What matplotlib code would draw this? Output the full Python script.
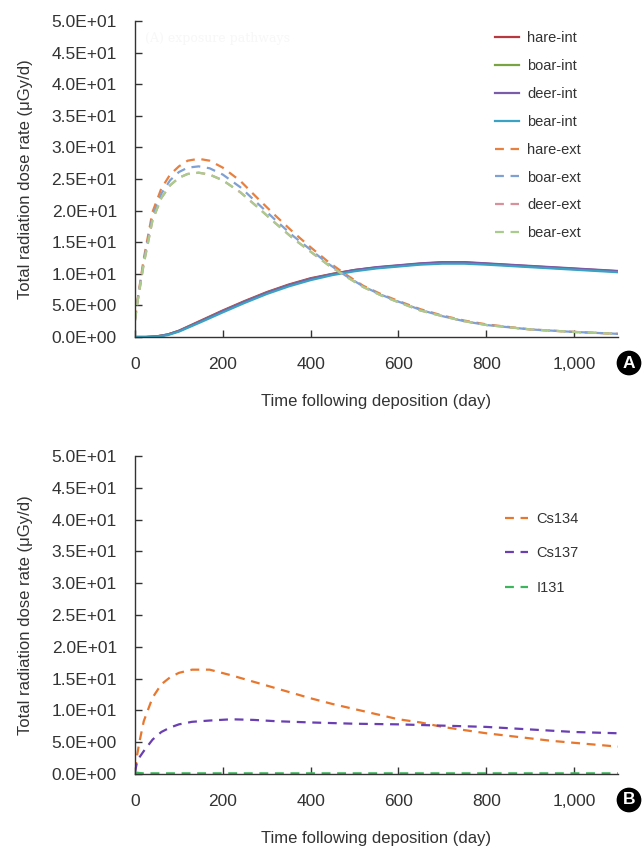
import matplotlib
matplotlib.use("Agg")
import matplotlib.pyplot as plt
from matplotlib.ticker import FuncFormatter, MultipleLocator

plt.rcParams['font.family'] = ['Liberation Sans', 'DejaVu Sans']

# ---- panel A data (days, uGy/d) ----
days_int = [0, 25, 50, 75, 100, 150, 200, 250, 300, 350, 400, 450, 500, 550,
            600, 650, 700, 750, 800, 850, 900, 950, 1000, 1050, 1100]
hare_int = [0.0, 0.0, 0.1, 0.4, 1.0, 2.6, 4.2, 5.7, 7.1, 8.3, 9.3, 10.0, 10.6, 11.0,
            11.3, 11.6, 11.8, 11.8, 11.6, 11.4, 11.2, 11.0, 10.8, 10.6, 10.4]
boar_int = [0.0, 0.0, 0.1, 0.4, 0.95, 2.5, 4.1, 5.6, 7.0, 8.2, 9.2, 9.95, 10.55, 10.95,
            11.25, 11.55, 11.75, 11.75, 11.55, 11.35, 11.15, 10.95, 10.75, 10.55, 10.35]
deer_int = [0.0, 0.0, 0.1, 0.4, 0.95, 2.5, 4.1, 5.6, 7.0, 8.2, 9.2, 9.95, 10.6, 11.05,
            11.35, 11.65, 11.85, 11.85, 11.65, 11.45, 11.25, 11.05, 10.85, 10.65, 10.45]
bear_int = [0.0, 0.0, 0.05, 0.3, 0.85, 2.35, 3.9, 5.4, 6.8, 8.0, 9.0, 9.8, 10.4, 10.85,
            11.15, 11.45, 11.6, 11.6, 11.45, 11.25, 11.05, 10.85, 10.65, 10.45, 10.25]

days_ext = [0, 5, 20, 40, 60, 80, 100, 120, 145, 170, 200, 240, 280, 320, 360,
            400, 440, 480, 520, 560, 600, 650, 700, 750, 800, 900, 1000, 1100]
hare_ext = [2.8, 5.5, 12.4, 19.8, 23.5, 25.7, 27.0, 27.9, 28.2, 27.9, 26.8, 24.7,
            21.9, 19.2, 16.6, 14.2, 11.9, 9.9, 8.1, 6.8, 5.7, 4.4, 3.4, 2.6, 2.0,
            1.2, 0.8, 0.5]
boar_ext = [2.7, 5.3, 12.0, 19.1, 22.7, 24.8, 26.1, 26.8, 27.0, 26.7, 25.7, 23.7,
            21.1, 18.5, 16.0, 13.8, 11.6, 9.7, 8.0, 6.7, 5.6, 4.3, 3.3, 2.5, 1.9,
            1.2, 0.8, 0.5]
deer_ext = [2.6, 5.2, 11.6, 18.5, 22.0, 24.0, 25.2, 25.8, 26.0, 25.7, 24.8, 22.9,
            20.5, 18.0, 15.6, 13.5, 11.4, 9.6, 7.9, 6.6, 5.5, 4.2, 3.3, 2.5, 1.9,
            1.2, 0.8, 0.5]
bear_ext = [2.6, 5.2, 11.6, 18.5, 22.0, 24.0, 25.2, 25.8, 26.0, 25.7, 24.8, 22.9,
            20.5, 18.0, 15.6, 13.5, 11.4, 9.6, 7.9, 6.6, 5.5, 4.2, 3.3, 2.5, 1.9,
            1.2, 0.8, 0.5]

# ---- panel B data ----
days_b = [0, 5, 10, 20, 40, 60, 80, 100, 130, 170, 220, 270, 320, 400, 450, 500,
          550, 600, 650, 700, 750, 800, 850, 900, 950, 1000, 1050, 1100]
cs134 = [0.5, 3.0, 5.0, 8.3, 12.0, 14.1, 15.2, 15.9, 16.4, 16.4, 15.5, 14.5,
         13.5, 11.9, 11.0, 10.2, 9.4, 8.6, 8.1, 7.4, 6.9, 6.4, 6.0, 5.6, 5.2, 4.9, 4.6, 4.3]
cs137 = [0.3, 2.0, 2.6, 3.6, 5.4, 6.6, 7.3, 7.8, 8.2, 8.4, 8.6, 8.5, 8.3, 8.1,
         8.0, 7.9, 7.85, 7.8, 7.7, 7.6, 7.5, 7.4, 7.2, 7.0, 6.8, 6.6, 6.5, 6.4]
i131 = [0.15, 0.2, 0.15, 0.1, 0.1, 0.1, 0.1, 0.1, 0.1, 0.1, 0.1, 0.1, 0.1, 0.1,
        0.1, 0.1, 0.1, 0.1, 0.1, 0.1, 0.1, 0.1, 0.1, 0.1, 0.1, 0.1, 0.1, 0.1]

dark = '#333333'
dash = (0, (4, 3))

fig = plt.figure(figsize=(6.44, 8.48), dpi=100)
axA = fig.add_axes([0.2096, 0.6026, 0.75, 0.3726])
axB = fig.add_axes([0.2096, 0.0873, 0.75, 0.375])


def style(ax):
    ax.set_xlim(0, 1100)
    ax.set_ylim(0, 50)
    ax.xaxis.set_major_locator(MultipleLocator(200))
    ax.yaxis.set_major_locator(MultipleLocator(5))
    ax.xaxis.set_major_formatter(FuncFormatter(lambda v, p: f"{v:,.0f}"))
    ax.yaxis.set_major_formatter(FuncFormatter(lambda v, p: f"{v:.1E}"))
    for s in ['top', 'right']:
        ax.spines[s].set_visible(False)
    for s in ['left', 'bottom']:
        ax.spines[s].set_color(dark)
        ax.spines[s].set_linewidth(1.0)
    ax.tick_params(axis='both', direction='in', length=5, width=1.0, color=dark,
                   labelcolor=dark, labelsize=12.5)
    ax.tick_params(axis='y', pad=13)
    ax.tick_params(axis='x', pad=14.5)
    ax.set_xlabel('Time following deposition (day)', fontsize=12, color=dark, labelpad=16)
    ax.set_ylabel('Total radiation dose rate (\u03bcGy/d)', fontsize=12, color=dark, labelpad=13)


lw = 1.6
axA.plot(days_int, hare_int, color='#b8383f', lw=lw, label='hare-int')
axA.plot(days_int, boar_int, color='#7aa443', lw=lw, label='boar-int')
axA.plot(days_int, deer_int, color='#7a5ca8', lw=lw, label='deer-int')
axA.plot(days_int, bear_int, color='#3aa3c3', lw=lw, label='bear-int')
axA.plot(days_ext, hare_ext, color='#e8803f', lw=lw, ls=dash, label='hare-ext')
axA.plot(days_ext, boar_ext, color='#7fa0d2', lw=lw, ls=dash, label='boar-ext')
axA.plot(days_ext, deer_ext, color='#d8919a', lw=lw, ls=dash, label='deer-ext')
axA.plot(days_ext, bear_ext, color='#a9cc8c', lw=lw, ls=dash, label='bear-ext')
style(axA)
axA.legend(loc='upper left', bbox_to_anchor=(0.725, 1.0), frameon=False, fontsize=10.5,
           handlelength=1.6, handletextpad=0.6, labelspacing=0.95, labelcolor=dark,
           borderaxespad=0.3)
axA.text(0.02, 0.965, '(A) exposure pathways', transform=axA.transAxes, fontsize=9,
         color='#f7f7f7', family='serif', va='top')

axB.plot(days_b, cs134, color='#e8772e', lw=lw, ls=dash, label='Cs134')
axB.plot(days_b, cs137, color='#6a3fb2', lw=lw, ls=dash, label='Cs137')
axB.plot(days_b, i131, color='#3db55c', lw=lw, ls=dash, label='I131')
style(axB)
axB.legend(loc='upper left', bbox_to_anchor=(0.738, 0.865), frameon=False, fontsize=10.5,
           handlelength=1.6, handletextpad=0.6, labelspacing=1.4, labelcolor=dark)

for letter, ypx in [('A', 363), ('B', 800)]:
    fig.text(629 / 644, 1 - ypx / 848, letter, ha='center', va='center',
             fontsize=12.5, fontweight='bold', color='white',
             bbox=dict(boxstyle='circle,pad=0.28', fc='black', ec='none'))

fig.savefig('out.png', dpi=100)
